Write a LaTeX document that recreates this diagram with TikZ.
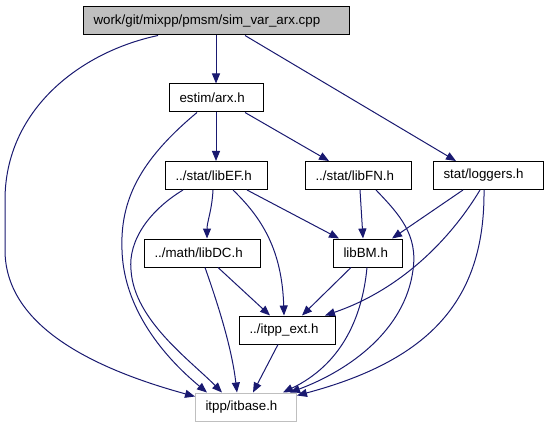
\documentclass[tikz,border=0pt]{standalone}
\usepackage{fontspec}
\setmainfont{Liberation Sans}
\usetikzlibrary{arrows.meta,calc}
\definecolor{edgeblue}{HTML}{191970}
\definecolor{boxgray}{HTML}{BFBFBF}

\begin{document}
\begin{tikzpicture}[x=0.75pt, y=-0.75pt,
	file/.style={draw=black, line width=0.75pt, anchor=west, inner xsep=7.5pt, inner ysep=0pt, minimum height=21pt, text width=#1, align=left, font=\fontsize{10}{12}\selectfont},
	dep/.style={draw=edgeblue, line width=0.75pt, -{Triangle[length=7.5pt,width=6pt]}}]
		\useasboundingbox (0,0) rectangle (548,427);

		%files
		\node[file=184.5pt, fill=boxgray] (main) at (83,21) {work/git/mixpp/pmsm/sim\_var\_arx.cpp};
		\node[file=55.5pt] (arx) at (169,98) {estim/arx.h};
		\node[file=61.5pt] (libEF) at (165,175.5) {../stat/libEF.h};
		\node[file=64.5pt] (libFN) at (305,175.5) {../stat/libFN.h};
		\node[file=67.5pt] (loggers) at (433,175.5) {stat/loggers.h};
		\node[file=72pt] (libDC) at (144,253) {../math/libDC.h};
		\node[file=36.75pt] (libBM) at (333,253) {libBM.h};
		\node[file=57pt] (ext) at (239,330) {../itpp\_ext.h};
		\node[file=60.75pt, draw=boxgray] (itbase) at (195,407) {itpp/itbase.h};

		%sim_var_arx.cpp
		\draw[dep] ($(main.south west)+(75,0)$) .. controls (80,52) and (5,110) .. (5,200) -- (5,250) .. controls (5,320) and (80,365) .. ($(itbase.north west)+(0,4)$);
		\draw[dep] ($(main.south west)+(133,0)$) -- ($(arx.north west)+(47,0)$);
		\draw[dep] ($(main.south west)+(162,0)$) -- ($(loggers.north west)+(23,0)$);

		%estim/arx.h
		\draw[dep] ($(arx.south west)+(47,0)$) -- ($(libEF.north west)+(51,0)$);
		\draw[dep] ($(arx.south west)+(76,0)$) -- ($(libFN.north west)+(24,0)$);
		\draw[dep] ($(arx.south west)+(28,0)$) .. controls (140,160) and (120,200) .. (122,250) .. controls (124,320) and (180,370) .. ($(itbase.north west)+(12,0)$);

		%libEF
		\draw[dep] ($(libEF.south west)+(18,0)$) .. controls (150,210) and (128,240) .. (131,270) .. controls (134,320) and (190,360) .. ($(itbase.north west)+(27,0)$);
		\draw[dep] ($(libEF.south west)+(48,0)$) .. controls (212,210) and (207,222) .. ($(libDC.north west)+(63,0)$);
		\draw[dep] ($(libEF.south west)+(68,0)$) .. controls (262,218) and (282,250) .. ($(ext.north west)+(45,0)$);
		\draw[dep] ($(libEF.south west)+(82,0)$) -- ($(libBM.north west)+(6,0)$);

		%libFN
		\draw[dep] ($(libFN.south west)+(55,0)$) -- ($(libBM.north west)+(30,0)$);
		\draw[dep] ($(libFN.south west)+(71,0)$) .. controls (400,215) and (418,235) .. (413,270) .. controls (405,330) and (350,370) .. ($(itbase.north west)+(95,0)$);

		%loggers
		\draw[dep] ($(loggers.south west)+(30,0)$) -- ($(libBM.north west)+(59,0)$);
		\draw[dep] ($(loggers.south west)+(47,0)$) .. controls (450,240) and (400,290) .. ($(ext.north west)+(86,0)$);
		\draw[dep] ($(loggers.south west)+(51,0)$) .. controls (485,300) and (430,360) .. ($(itbase.north east)+(0,3)$);

		%libDC
		\draw[dep] ($(libDC.south west)+(61,0)$) .. controls (220,310) and (232,350) .. ($(itbase.north west)+(42,0)$);
		\draw[dep] ($(libDC.south west)+(74,0)$) -- ($(ext.north west)+(31,0)$);

		%libBM
		\draw[dep] ($(libBM.south west)+(18,0)$) -- ($(ext.north west)+(63,0)$);
		\draw[dep] ($(libBM.south west)+(34,0)$) .. controls (362,320) and (340,365) .. ($(itbase.north west)+(88,0)$);

		%itpp_ext
		\draw[dep] ($(ext.south west)+(39,0)$) -- ($(itbase.north west)+(58,0)$);
	\end{tikzpicture}
\end{document}
